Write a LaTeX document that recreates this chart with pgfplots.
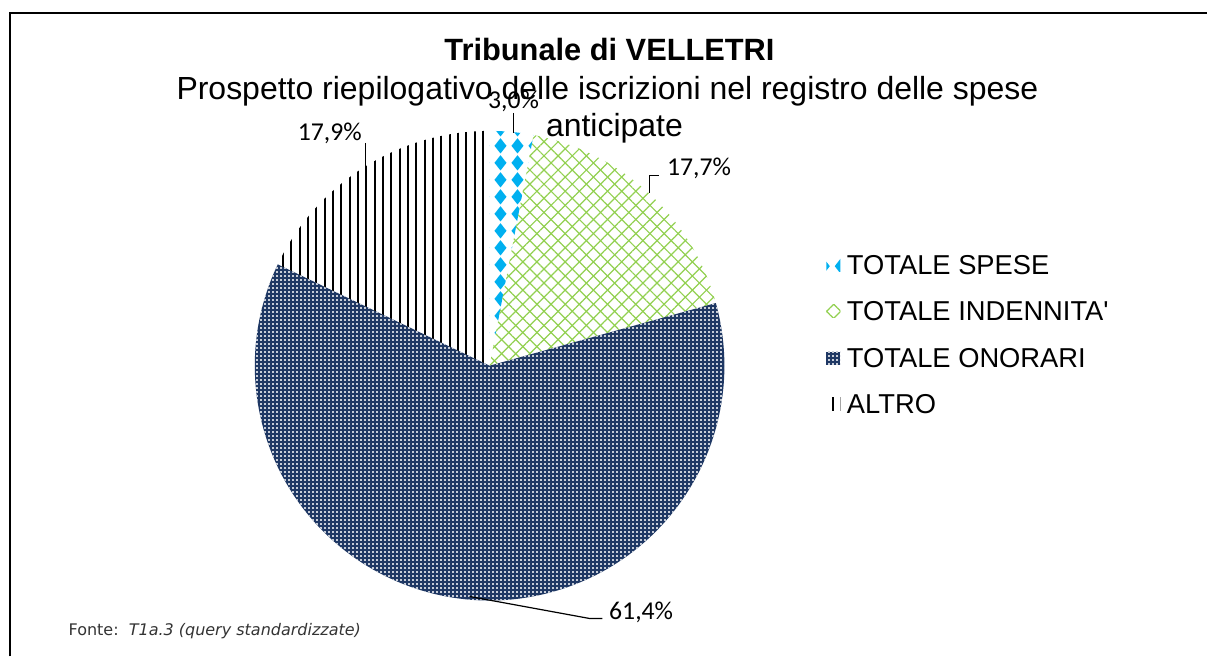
\documentclass[border=0pt]{standalone}
\usepackage{pgfplots}
\pgfplotsset{compat=1.18}
\usepackage{pgfplotstable}
\usepackage{fontspec}
\setmainfont{Liberation Sans}
\newfontfamily\nolig{Liberation Sans}[Ligatures=TeXOff]
\newfontfamily\lblfont{Carlito}
\newfontfamily\srcfont{DejaVu Sans}
\usetikzlibrary{patterns.meta}

\definecolor{spese}{HTML}{00B0F0}
\definecolor{indenn}{HTML}{92D050}
\definecolor{onorari}{HTML}{1F3864}

% blue diamonds
\pgfdeclarepattern{
  name=diamonds, type=uncolored,
  bottom left={\pgfpoint{0pt}{0pt}}, top right={\pgfpoint{12.75pt}{12.5pt}},
  tile size={\pgfpoint{12.75pt}{12.5pt}},
  code={
    \pgfpathmoveto{\pgfpoint{6.375pt}{0.4pt}}
    \pgfpathlineto{\pgfpoint{10.9pt}{6.25pt}}
    \pgfpathlineto{\pgfpoint{6.375pt}{12.1pt}}
    \pgfpathlineto{\pgfpoint{1.85pt}{6.25pt}}
    \pgfpathclose
    \pgfusepath{fill}
  }
}
% white specks on navy
\pgfdeclarepattern{
  name=specks, type=uncolored,
  bottom left={\pgfpoint{0pt}{0pt}}, top right={\pgfpoint{3pt}{3pt}},
  tile size={\pgfpoint{3pt}{3pt}},
  code={
    \pgfpathrectangle{\pgfpoint{0.8pt}{0.8pt}}{\pgfpoint{1.3pt}{1.3pt}}
    \pgfusepath{fill}
  }
}

\pgfplotstableread{
name value
spese 3.0
indenn 17.7
onorari 61.4
altro 17.9
}\piedata

\tikzset{
  pSpese/.style={pattern=diamonds, pattern color=spese},
  pIndenn/.style={preaction={pattern={Lines[angle=45,distance=7.5pt,line width=0.9pt]}, pattern color=indenn},
      pattern={Lines[angle=-45,distance=7.5pt,line width=0.9pt]}, pattern color=indenn},
  pOnorari/.style={preaction={fill=onorari}, pattern=specks, pattern color=white!75!onorari},
  pAltro/.style={pattern={Lines[angle=90,distance=6.25pt,line width=1.4pt]}, pattern color=black}
}

\begin{document}%
\pgfplotstablegetelem{0}{value}\of\piedata \let\vA\pgfplotsretval%
\pgfplotstablegetelem{1}{value}\of\piedata \let\vB\pgfplotsretval%
\pgfplotstablegetelem{2}{value}\of\piedata \let\vC\pgfplotsretval%
\pgfplotstablegetelem{3}{value}\of\piedata \let\vD\pgfplotsretval%
\pgfmathsetmacro\aO{90}%
\pgfmathsetmacro\aA{\aO-3.6*\vA}%
\pgfmathsetmacro\aB{\aA-3.6*\vB}%
\pgfmathsetmacro\aC{\aB-3.6*\vC}%
\pgfmathsetmacro\aD{\aC-3.6*\vD}%
\def\R{176.25pt}%
\newcommand\slice[2]{(axis cs:490,366) -- ++(#1:\R) arc[start angle=#1, end angle=#2, radius=\R] -- cycle}%
\begin{tikzpicture}
\begin{axis}[
  scale only axis,
  width=906pt, height=492.75pt,
  xmin=0, xmax=1208, ymin=0, ymax=657,
  y dir=reverse,
  hide axis,
  clip=false
]
\path (axis cs:0,0) rectangle (axis cs:1208,657);

% frame
\draw[line width=1.6pt] (axis cs:10,657) -- (axis cs:10,13) -- (axis cs:1208,13);

% slices
\fill[pSpese] \slice{\aO}{\aA};
\fill[pIndenn] \slice{\aA}{\aB};
\fill[pOnorari] \slice{\aB}{\aC};
\fill[pAltro] \slice{\aC}{\aD};

% title
\node[anchor=base, font=\bfseries\fontsize{23.1}{27}\selectfont] at (axis cs:610,61) {Tribunale di VELLETRI};
\node[anchor=base, font=\fontsize{24}{27}\selectfont] at (axis cs:608,100) {Prospetto riepilogativo delle iscrizioni nel registro delle spese};
\node[anchor=base, font=\fontsize{24}{27}\selectfont] at (axis cs:615,137) {anticipate};

% data labels
\begin{scope}[font=\lblfont\fontsize{19.3}{23}\selectfont]
\node[anchor=base] at (axis cs:514,109) {3,0\%};
\draw[line width=0.9pt] (axis cs:514,113) -- (axis cs:514,133);
\node[anchor=base west] at (axis cs:663,176) {17,7\%};
\draw[line width=0.9pt] (axis cs:650,193) -- (axis cs:650,176) -- (axis cs:660,176);
\node[anchor=base] at (axis cs:330,141) {17,9\%};
\draw[line width=0.9pt] (axis cs:366,143) -- (axis cs:366,168);
\node[anchor=base west] at (axis cs:605,620) {61,4\%};
\draw[line width=0.9pt] (axis cs:470,597) -- (axis cs:590,619) -- (axis cs:603,619);
\end{scope}

% legend
\begin{scope}[font=\nolig\fontsize{20.5}{24}\selectfont]
\fill[pSpese] (axis cs:827,259) rectangle (axis cs:841,272);
\node[anchor=west] at (axis cs:843,265) {TOTALE SPESE};
\fill[pIndenn] (axis cs:827,305) rectangle (axis cs:841,318);
\node[anchor=west] at (axis cs:843,311) {TOTALE INDENNITA'};
\fill[pOnorari] (axis cs:827,352) rectangle (axis cs:841,365);
\node[anchor=west] at (axis cs:843,358) {TOTALE ONORARI};
\fill[pAltro] (axis cs:827,398) rectangle (axis cs:841,411);
\node[anchor=west] at (axis cs:843,404) {ALTRO};
\end{scope}

% source
\node[anchor=west, font=\srcfont\fontsize{12}{14}\selectfont, text=black!80] at (axis cs:64,632) {Fonte:\ \ \textit{T1a.3 (query standardizzate)}};
\end{axis}
\end{tikzpicture}%
\end{document}
